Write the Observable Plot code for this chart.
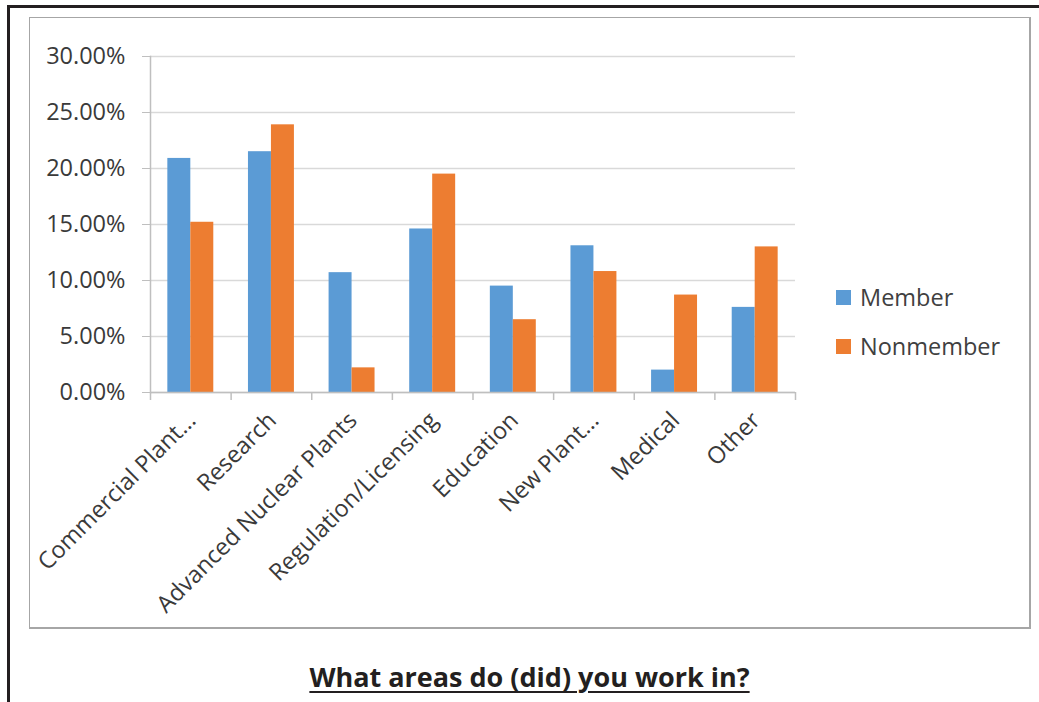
<!DOCTYPE html>
<html>
<head>
<meta charset="utf-8">
<script src="https://cdn.jsdelivr.net/npm/d3@7"></script>
<script src="https://cdn.jsdelivr.net/npm/@observablehq/plot@0.6"></script>
<style>
  html, body { margin: 0; padding: 0; background: #fff; }
  body { width: 1039px; height: 702px; position: relative; overflow: hidden; font-family: "Open Sans", sans-serif; }
  #outer { position: absolute; left: 7px; top: 5px; width: 1040px; height: 710px; border-top: 3px solid #231f20; border-left: 3px solid #231f20; }
  #box { position: absolute; left: 29px; top: 17px; width: 999px; height: 609px; border: 2px solid #a6a6a6; border-top-width: 1px; border-left-width: 1px; }
  #chart { position: absolute; left: 29px; top: 17px; }
  .legend { position: absolute; left: 836px; font-size: 23.5px; color: #404040; display: flex; align-items: center; }
  .legend .sw { width: 15px; height: 15px; margin-right: 9px; }
  #title { position: absolute; left: 29px; width: 1001px; top: 658px; text-align: center; font-family: "Open Sans", sans-serif; font-weight: bold; font-size: 27px; color: #231f20; }
  #title span { text-decoration: underline; text-decoration-thickness: 2px; text-underline-offset: 4px; }
</style>
</head>
<body>
<div id="outer"></div>
<div id="box"></div>
<div id="chart"></div>
<div id="legend"></div>
<div id="title"><span>What areas do (did) you work in?</span></div>
<script>
const categories = ["Commercial Plant…", "Research", "Advanced Nuclear Plants", "Regulation/Licensing", "Education", "New Plant…", "Medical", "Other"];
const member    = [0.209, 0.215, 0.107, 0.146, 0.095, 0.131, 0.020, 0.076];
const nonmember = [0.152, 0.239, 0.022, 0.195, 0.065, 0.108, 0.087, 0.130];
const seriesNames = ["Member", "Nonmember"];
const seriesColors = ["#5B9BD5", "#ED7D31"];
const yTicks = [0, 0.05, 0.10, 0.15, 0.20, 0.25, 0.30];

const data = [];
categories.forEach((c, i) => {
  data.push({category: c, series: seriesNames[0], value: member[i]});
  data.push({category: c, series: seriesNames[1], value: nonmember[i]});
});

const W = 1001, H = 611;
const mL = 121, mT = 39, mR = 235, mB = 236;
const plotW = W - mL - mR;
const bw = plotW / categories.length;
const gap = bw * 0.215;
const barW = (bw - 2 * gap) / 2;
const gridColor = "#d9d9d9";
const axisColor = "#bfbfbf";
const textColor = "#3a3a3a";

const chart = Plot.plot({
  width: W, height: H,
  marginLeft: mL, marginTop: mT, marginRight: mR, marginBottom: mB,
  style: {fontFamily: "'Open Sans', sans-serif", fontSize: "24px", color: textColor, background: "transparent", overflow: "visible"},
  x: {domain: categories, padding: 0, round: false},
  y: {domain: [0, 0.30]},
  marks: [
    Plot.gridY(yTicks, {stroke: gridColor, strokeOpacity: 1, strokeWidth: 1.3}),
    Plot.barY(data.filter(d => d.series === seriesNames[0]), {x: "category", y: "value", fill: seriesColors[0], insetLeft: gap, insetRight: gap + barW}),
    Plot.barY(data.filter(d => d.series === seriesNames[1]), {x: "category", y: "value", fill: seriesColors[1], insetLeft: gap + barW, insetRight: gap}),
    Plot.frame({anchor: "left", stroke: axisColor, strokeWidth: 1.5}),
    Plot.ruleY([0], {stroke: axisColor, strokeWidth: 1.5}),
    Plot.ruleX(categories, {x: d => d, y1: 0, y2: 0, insetBottom: -8, dx: -bw / 2, stroke: axisColor, strokeWidth: 1.5}),
    Plot.ruleX(categories.slice(-1), {x: d => d, y1: 0, y2: 0, insetBottom: -8, dx: bw / 2, stroke: axisColor, strokeWidth: 1.5}),
    Plot.axisY(yTicks, {tickSize: 8, tickPadding: 17, stroke: axisColor, tickFormat: d3.format(".2%"), fill: textColor, fontSize: 23.5, label: null}),
    Plot.axisX({tickSize: 0, tickRotate: -45, tickPadding: 24, dx: 1, fill: textColor, fontSize: 23.5, label: null})
  ]
});
document.getElementById("chart").appendChild(chart);

const legend = document.getElementById("legend");
seriesNames.forEach((s, i) => {
  const item = document.createElement("div");
  item.className = "legend";
  item.style.top = (281 + i * 49) + "px";
  item.innerHTML = `<div class="sw" style="background:${seriesColors[i]}"></div><span>${s}</span>`;
  legend.appendChild(item);
});
</script>
</body>
</html>
